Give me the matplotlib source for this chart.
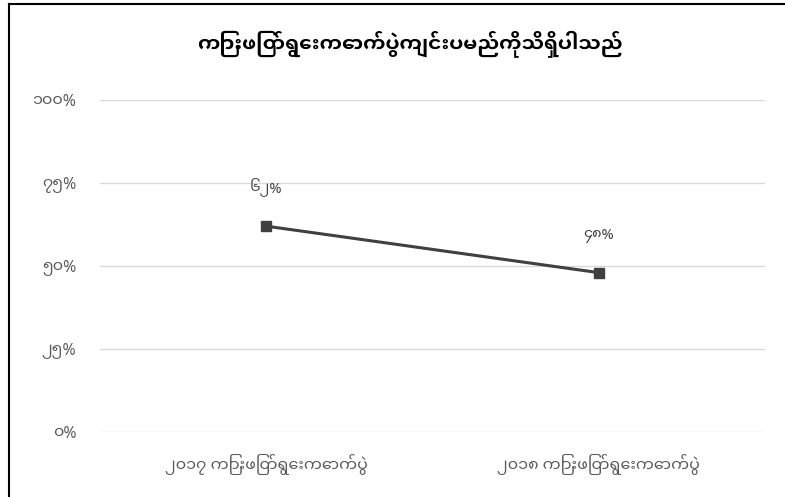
import matplotlib
matplotlib.use('Agg')
import matplotlib.pyplot as plt
from matplotlib.lines import Line2D

plt.rcParams['font.family'] = ['Noto Sans Myanmar UI', 'Noto Sans Myanmar', 'Padauk', 'DejaVu Sans']

# data
title = 'ကြားဖြတ်ရွေးကောက်ပွဲကျင်းပမည်ကိုသိရှိပါသည်'
categories = ['၂၀၁၇ ကြားဖြတ်ရွေးကောက်ပွဲ', '၂၀၁၈ ကြားဖြတ်ရွေးကောက်ပွဲ']
values = [62, 48]
value_labels = ['၆၂%', '၄၈%']
y_ticks = [0, 25, 50, 75, 100]
y_tick_labels = ['၀%', '၂၅%', '၅၀%', '၇၅%', '၁၀၀%']

fig = plt.figure(figsize=(7.85, 4.97), dpi=100)
ax = fig.add_axes([100 / 785, 65 / 497, 665 / 785, 332 / 497])

x = list(range(len(categories)))
ax.plot(x, values, color='#404040', linewidth=2.2, marker='s', markersize=6.5)

for xi, v, lab in zip(x, values, value_labels):
    ax.annotate(lab, (xi, v), xytext=(0, 22), textcoords='offset points',
                ha='center', va='bottom', fontsize=10.5, color='#404040')

ax.set_xlim(-0.5, len(categories) - 0.5)
ax.set_ylim(0, 100)
ax.set_yticks(y_ticks)
ax.set_yticklabels(y_tick_labels)
ax.set_xticks(x)
ax.set_xticklabels(categories)
ax.tick_params(axis='both', length=0, labelsize=11.5, colors='#595959')
ax.tick_params(axis='y', pad=17)
ax.tick_params(axis='x', pad=16)
ax.grid(axis='y', color='#d9d9d9', linewidth=1)
ax.set_axisbelow(True)
for s in ax.spines.values():
    s.set_visible(False)

fig.text(410 / 785, 1 - 44 / 497, title, ha='center', va='center',
         fontsize=14.5, fontweight='bold', color='black')

# outer frame (top and left only)
fig.add_artist(Line2D([8.5 / 785, 8.5 / 785], [0, 1 - 4 / 497], color='black', linewidth=1.5,
                      transform=fig.transFigure))
fig.add_artist(Line2D([8.5 / 785, 1], [1 - 4 / 497, 1 - 4 / 497], color='black', linewidth=1.5,
                      transform=fig.transFigure))

fig.savefig('out.png', dpi=100)
